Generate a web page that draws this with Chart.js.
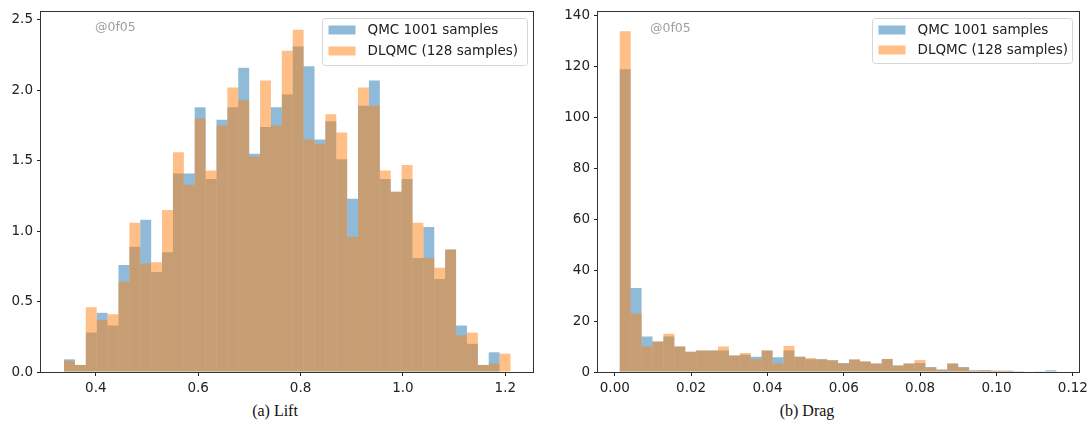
<!DOCTYPE html>
<html>
<head>
<meta charset="utf-8">
<script src="https://cdn.jsdelivr.net/npm/chart.js@4.4.0/dist/chart.umd.min.js"></script>
<style>
  html, body { margin: 0; padding: 0; background: #fff; }
  body { width: 1092px; height: 448px; position: relative; overflow: hidden; }
  .panel { position: absolute; top: 0; width: 546px; height: 400px; }
  #liftBox { left: 0; }
  #dragBox { left: 546px; }
  .cap { position: absolute; top: 402px; width: 200px; text-align: center;
         font-family: 'Liberation Serif', 'DejaVu Serif', serif; font-size: 16px; color: #111; }
</style>
</head>
<body>
<div class="panel" id="liftBox"><canvas id="chartLift"></canvas></div>
<div class="panel" id="dragBox"><canvas id="chartDrag"></canvas></div>
<div class="cap" style="left:175px">(a) Lift</div>
<div class="cap" style="left:707px">(b) Drag</div>

<script>
// ─── DATA ────────────────────────────────────────────────────────────────────
const seriesLabels = ['QMC 1001 samples', 'DLQMC (128 samples)'];
const watermark    = '@0f05';

// Lift: 41 bins, density
const liftLo  = 0.338;
const liftBin = 0.02127;
const liftQMC   = [0.09, 0.05, 0.28, 0.42, 0.33, 0.76, 0.89, 1.08, 0.71, 0.85,
                   1.41, 1.41, 1.88, 1.37, 1.79, 1.88, 2.16, 1.55, 1.74, 1.88,
                   1.97, 2.31, 2.17, 1.65, 1.78, 1.51, 1.23, 1.89, 2.07, 1.37,
                   1.28, 1.37, 0.81, 1.03, 0.66, 0.87, 0.33, 0.20, 0.05, 0.14, 0];
const liftDLQMC = [0.08, 0.05, 0.46, 0.37, 0.41, 0.64, 1.06, 0.77, 0.78, 1.15,
                   1.56, 1.33, 1.80, 1.43, 1.75, 2.02, 1.93, 1.53, 2.07, 1.75,
                   2.28, 2.43, 1.65, 1.62, 1.83, 1.70, 0.96, 2.02, 1.89, 1.43,
                   1.28, 1.47, 1.06, 0.81, 0.74, 0.87, 0.26, 0.28, 0.05, 0.06, 0.13];
const liftXTicks = [0.4, 0.6, 0.8, 1.0, 1.2];
const liftYTicks = [0, 0.5, 1.0, 1.5, 2.0, 2.5];

// Drag: 40 bins, density
const dragLo  = 0.0013;
const dragBin = 0.00286;
const dragQMC   = [119, 33, 14, 12, 14, 10, 8, 8.5, 8.5, 8.5,
                   6.5, 6.8, 6, 8.5, 5.8, 8.5, 6, 5, 5, 4.6,
                   3.5, 4.9, 4.1, 3.3, 5.1, 2.6, 3.3, 3.5, 2, 1,
                   3.3, 2, 0.7, 0.7, 0.5, 0.5, 0.3, 0.2, 0.3, 0.7];
const dragDLQMC = [134, 23, 10, 12, 15, 10, 8, 8.5, 8.5, 10,
                   6.5, 7.5, 5, 8.5, 3.3, 10.2, 6, 5.5, 5, 4.6,
                   3.3, 4.9, 4.1, 3.3, 5.1, 2.6, 3.3, 4.7, 1.7, 0.9,
                   3.3, 1.7, 0.5, 0.7, 0.5, 0.5, 0.3, 0.2, 0, 0];
const dragXTicks = [0, 0.02, 0.04, 0.06, 0.08, 0.10, 0.12];
const dragYTicks = [0, 20, 40, 60, 80, 100, 120, 140];

// ─── DEFAULTS ────────────────────────────────────────────────────────────────
Chart.defaults.font.family = "'DejaVu Sans', sans-serif";
Chart.defaults.font.size   = 13.5;
Chart.defaults.color       = '#222';

const BLUE   = 'rgba(31,119,180,0.5)';
const ORANGE = 'rgba(255,127,14,0.5)';

function binned(lo, w, vals) {
  return vals.map((v, i) => ({ x: lo + (i + 0.5) * w, y: v }));
}

// spines on all four sides
const frame = {
  id: 'frame',
  afterDraw(chart) {
    const { ctx, chartArea: a } = chart;
    ctx.save();
    ctx.strokeStyle = '#333';
    ctx.lineWidth = 1;
    ctx.strokeRect(Math.round(a.left) - 0.5, Math.round(a.top) - 0.5,
                   Math.round(a.right - a.left) + 1, Math.round(a.bottom - a.top) + 1);
    ctx.restore();
  },
};

// matplotlib-like legend box + watermark
const boxLegend = {
  id: 'boxLegend',
  afterDatasetsDraw(chart, args, o) {
    const { ctx, chartArea: a } = chart;
    ctx.save();
    ctx.font = "12.5px 'DejaVu Sans'";
    ctx.fillStyle = '#a0a0a0';
    ctx.textBaseline = 'middle';
    ctx.fillText(watermark, a.left + o.wx, a.top + o.wy);

    const x = Math.round(a.right - o.dx - o.w) + 0.5, y = Math.round(a.top + o.dy) + 0.5;
    ctx.fillStyle = 'rgba(255,255,255,0.8)';
    ctx.strokeStyle = '#d6d6d6';
    ctx.beginPath(); ctx.roundRect(x, y, o.w, o.h, 3); ctx.fill(); ctx.stroke();
    ctx.font = "13.5px 'DejaVu Sans'";
    chart.data.datasets.forEach((ds, i) => {
      const cy = y + o.row0 + i * o.gap;
      ctx.fillStyle = ds.backgroundColor;
      ctx.fillRect(x + 6, cy - 5, 27, 9);
      ctx.fillStyle = '#222';
      ctx.fillText(ds.label, x + 45, cy);
    });
    ctx.restore();
  },
};

function axis(min, max, tickVals, digits, fit) {
  return {
    type: 'linear', min, max, offset: false,
    afterBuildTicks: ax => { ax.ticks = tickVals.map(v => ({ value: v })); },
    afterFit: fit,
    grid: { drawOnChartArea: false, drawTicks: true, tickLength: 4, tickColor: '#222', offset: false },
    border: { display: false },
    ticks: { padding: 4, autoSkip: false, maxRotation: 0, callback: v => v.toFixed(digits) },
  };
}

function histChart(id, qmc, dlqmc, lo, w, xr, yMax, xt, yt, xd, yd, yW, pad, leg) {
  return new Chart(document.getElementById(id), {
    type: 'bar',
    data: { datasets: [
      { label: seriesLabels[0], data: binned(lo, w, qmc),   backgroundColor: BLUE,   order: 2 },
      { label: seriesLabels[1], data: binned(lo, w, dlqmc), backgroundColor: ORANGE, order: 1 },
    ]},
    options: {
      responsive: true, maintainAspectRatio: false, animation: false,
      layout: { padding: pad },
      datasets: { bar: { grouped: false, barPercentage: 1, categoryPercentage: 1,
                         borderWidth: 0, inflateAmount: 0 } },
      plugins: { legend: { display: false }, tooltip: { enabled: false }, boxLegend: leg },
      scales: {
        x: axis(xr[0], xr[1], xt, xd, ax => { ax.height = 28; }),
        y: axis(0, yMax, yt, yd, ax => { ax.width = yW; }),
      },
    },
    plugins: [frame, boxLegend],
  });
}

// ─── LIFT ────────────────────────────────────────────────────────────────────
histChart('chartLift', liftQMC, liftDLQMC, liftLo, liftBin,
  [0.293, 1.254], 2.555, liftXTicks, liftYTicks, 1, 1, 41,
  { left: 0, top: 4, right: 13, bottom: 0 },
  { w: 205, h: 47, dx: 6, dy: 6, row0: 12, gap: 21, wx: 54, wy: 16 });

// ─── DRAG ────────────────────────────────────────────────────────────────────
histChart('chartDrag', dragQMC, dragDLQMC, dragLo, dragBin,
  [-0.0044, 0.1215], 141.5, dragXTicks, dragYTicks, 2, 0, 52,
  { left: 0, top: 12, right: 12, bottom: 0 },
  { w: 200, h: 45, dx: 7, dy: 6, row0: 12, gap: 20, wx: 52, wy: 17 });
</script>
</body>
</html>
